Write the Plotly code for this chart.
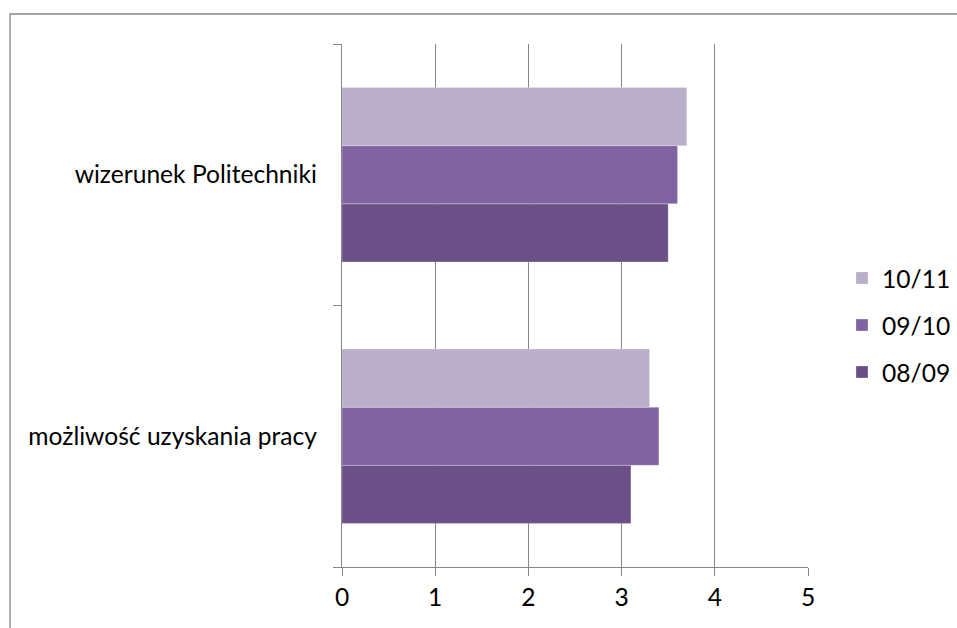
import plotly.graph_objects as go

categories = ["możliwość uzyskania pracy", "wizerunek Politechniki"]
series_names = ["08/09", "09/10", "10/11"]
values_0809 = [3.1, 3.5]
values_0910 = [3.4, 3.6]
values_1011 = [3.3, 3.7]
x_ticks = [0, 1, 2, 3, 4, 5]

colors = {"08/09": "#6A5087", "09/10": "#8064A2", "10/11": "#B9AFCA"}
data = {"08/09": values_0809, "09/10": values_0910, "10/11": values_1011}
legend_rank = {"10/11": 1, "09/10": 2, "08/09": 3}

W, H = 957, 628
L, R, T, B = 342, 149, 44, 61
FONT = "Lato"
FS = 24.6

fig = go.Figure()
for name in series_names:
    fig.add_trace(go.Bar(
        y=categories, x=data[name], name=name, orientation="h",
        marker=dict(color=colors[name], line=dict(width=1, color="rgba(255,255,255,0.25)")),
        legendgroup=name, legendrank=legend_rank[name],
    ))

grid = "#868686"
fig.update_layout(
    width=W, height=H,
    margin=dict(l=L, r=R, t=T, b=B, pad=0, autoexpand=False),
    paper_bgcolor="white", plot_bgcolor="white",
    barmode="group", bargap=1/3, bargroupgap=0,
    font=dict(family=FONT, size=FS, color="black"),
    showlegend=True,
    legend=dict(
        x=(842 - L) / (W - L - R), y=(567 - 325) / (H - T - B),
        xanchor="left", yanchor="middle",
        traceorder="grouped", tracegroupgap=12,
        font=dict(family=FONT, size=FS),
        itemwidth=30,
    ),
    xaxis=dict(
        range=[0, 5], tickvals=x_ticks, ticktext=[str(v) for v in x_ticks],
        showgrid=True, gridcolor=grid, gridwidth=1.4,
        showline=True, linecolor=grid, linewidth=1.4,
        ticks="outside", ticklen=8, tickcolor=grid, tickwidth=1.4,
        zeroline=False, fixedrange=True,
    ),
    yaxis=dict(
        type="category", categoryorder="array", categoryarray=categories,
        showgrid=False, showline=True, linecolor=grid, linewidth=1.4,
        ticks="outside", ticklen=8, tickcolor=grid, tickwidth=1.4,
        tickson="boundaries", ticklabelstandoff=19,
        zeroline=False, range=[-0.5, 1.5],
    ),
)

# outer chart border
pw, ph = W - L - R, H - T - B
fig.add_shape(
    type="rect", xref="paper", yref="paper",
    x0=(10 - L) / pw, x1=(990 - L) / pw,
    y0=(H - B - 680) / ph, y1=(H - B - 14) / ph,
    line=dict(color="#868686", width=1.3), fillcolor="rgba(0,0,0,0)", layer="below",
)

fig.write_html("out.html")
